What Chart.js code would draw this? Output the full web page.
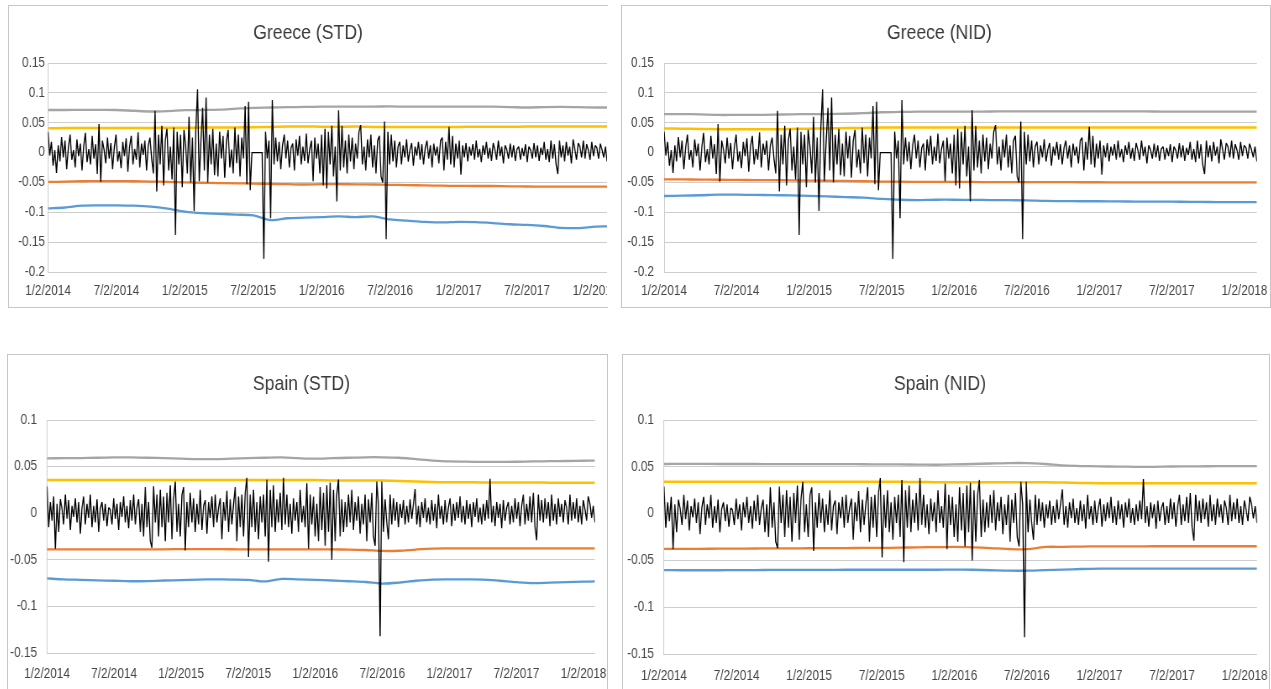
<!DOCTYPE html>
<html>
<head>
<meta charset="utf-8">
<script src="https://cdn.jsdelivr.net/npm/chart.js@4.4.1/dist/chart.umd.min.js"></script>
<style>
  html, body { margin: 0; padding: 0; background: #fff; overflow: hidden; width: 1271px; height: 689px; }
  .panel { position: absolute; box-sizing: border-box; border: 1px solid #c6c6c6; overflow: hidden; background: #fff; }
  .panel canvas { position: absolute; left: 0; top: 0; transform-origin: 0 0; }
</style>
</head>
<body>
<div class="panel" style="left:8px;top:5px;width:600px;height:303px;border-right:none"><canvas id="grStd"></canvas></div>
<div class="panel" style="left:621px;top:5px;width:650px;height:303px"><canvas id="grNid"></canvas></div>
<div class="panel" style="left:7px;top:354px;width:601px;height:345px"><canvas id="esStd"></canvas></div>
<div class="panel" style="left:622px;top:354px;width:648px;height:345px"><canvas id="esNid"></canvas></div>

<script>
// x axis: half-year steps from 1/2/2014, data runs a little past 1/2/2018
const xTickLabels = ['1/2/2014', '7/2/2014', '1/2/2015', '7/2/2015', '1/2/2016', '7/2/2016', '1/2/2017', '7/2/2017', '1/2/2018'];
const X_END = 8.17;

const greeceTicks = [-0.2, -0.15, -0.1, -0.05, 0, 0.05, 0.1, 0.15];
const spainTicks = [-0.15, -0.1, -0.05, 0, 0.05, 0.1];

// daily returns (thinned)
const greeceRet = [
  0.035, -0.005, 0.018, -0.022, 0.004, -0.034, 0.012, -0.015, 0.026, -0.008,
  0.02, -0.028, 0.009, 0.03, -0.012, 0.004, -0.025, 0.022, -0.006, 0.015,
  -0.03, 0.01, 0.033, -0.016, 0.006, -0.02, 0.028, -0.01, 0.014, -0.036,
  0.048, -0.049, 0.02, 0.005, -0.018, 0.025, -0.01, 0.016, -0.028, 0.008,
  0.03, -0.015, 0.002, -0.026, 0.018, -0.006, 0.024, -0.032, 0.01, 0.028,
  -0.02, 0.006, -0.012, 0.034, -0.025, 0.015, -0.004, 0.02, -0.03, 0.012,
  0.025, -0.01, -0.035, 0.07, -0.065, 0.03, -0.02, 0.045, -0.055, 0.02,
  0.04, -0.03, 0.01, -0.045, 0.042, -0.138, 0.035, -0.02, 0.03, -0.058,
  0.038, 0.01, -0.035, 0.06, -0.05, 0.025, -0.098, 0.04, 0.106, -0.048,
  0.02, 0.075, -0.03, 0.092, -0.05, 0.03, -0.02, 0.04, -0.038, 0.015,
  -0.04, 0.035, -0.01, 0.028, -0.042, 0.02, 0.038, -0.025, 0.005, -0.035,
  0.042, -0.018, 0.03, -0.04, 0.025, -0.01, 0.078, -0.053, 0.085, -0.063,
  0, 0, 0, 0, 0, 0, 0, -0.178, 0.035, -0.01,
  0.02, -0.11, 0.088, -0.02, 0.025, -0.015, 0.018, -0.028, 0.012, 0.03,
  -0.01, 0.02, -0.025, 0.008, 0.015, -0.03, 0.022, -0.005, 0.028, -0.02,
  0.01, -0.014, 0.032, -0.018, 0.006, 0.02, -0.048, 0.025, -0.01, 0.015,
  -0.035, 0.03, -0.055, 0.04, -0.06, 0.035, -0.02, 0.045, -0.04, 0.01,
  -0.082, 0.071, -0.03, 0.045, -0.025, 0.02, -0.035, 0.03, -0.015, 0.025,
  -0.028, 0.015, -0.01, 0.035, 0.046, -0.02, 0.01, -0.03, 0.022, -0.008,
  0.03, -0.025, 0.012, -0.035, 0.02, 0.028, -0.04, -0.05, 0.052, -0.145,
  0.035, -0.02, 0.03, -0.015, 0.02, -0.025, 0.01, 0.018, -0.02, 0.012,
  -0.008, 0.022, -0.015, 0.005, 0.016, -0.022, 0.01, -0.005, 0.018, -0.012,
  0.014, -0.02, 0.008, 0.02, -0.01, 0.012, -0.025, 0.015, -0.005, 0.01,
  -0.018, 0.02, 0.025, -0.03, 0.018, -0.012, 0.043, -0.02, 0.028, -0.025,
  0.015, -0.01, 0.02, -0.037, 0.012, -0.008, 0.016, -0.015, 0.01, -0.005,
  0.014, -0.012, 0.02, -0.008, 0.006, -0.016, 0.012, -0.004, 0.018, -0.01,
  0.008, -0.014, 0.016, 0.004, -0.012, 0.02, -0.006, 0.01, -0.018, 0.012,
  0.005, -0.01, 0.015, -0.008, 0.012, -0.014, 0.006, 0.01, -0.012, 0.008,
  -0.006, 0.014, -0.016, 0.01, 0.004, -0.01, 0.016, -0.008, 0.012, -0.014,
  0.008, -0.004, 0.018, -0.012, 0.006, -0.016, 0.02, -0.01, 0.014, -0.02,
  -0.036, 0.02, -0.008, 0.012, -0.015, 0.018, -0.005, 0.01, -0.018, 0.022,
  0.006, -0.012, 0.016, 0.01, -0.008, 0.02, -0.01, 0.014, 0.004, -0.012,
  0.018, -0.006, 0.012, 0.008, -0.01, 0.015, 0.005, -0.008, 0.01, -0.015
];

const spainRet = [
  0.029, -0.015, 0.012, -0.008, 0.018, -0.038, 0.01, -0.02, 0.015, 0.005,
  -0.012, 0.02, -0.006, 0.014, -0.018, 0.008, -0.004, 0.016, -0.01, 0.012,
  -0.022, 0.006, 0.018, -0.012, 0.01, -0.005, 0.02, -0.015, 0.008, -0.01,
  0.015, -0.02, 0.005, 0.012, -0.008, 0.01, -0.014, 0.006, 0.004, -0.012,
  0.016, -0.006, 0.01, -0.018, 0.012, -0.004, 0.018, -0.01, 0.008, -0.016,
  0.014, -0.008, 0.02, -0.012, 0.006, 0.015, -0.02, 0.01, -0.025, 0.028,
  -0.015, 0.012, -0.03, -0.037, 0.029, -0.01, 0.02, -0.025, 0.025, -0.015,
  0.018, -0.03, 0.022, -0.01, 0.03, -0.028, 0.015, 0.034, -0.02, 0.01,
  -0.025, 0.02, 0.028, -0.04, 0.012, -0.015, 0.022, -0.01, 0.016, -0.02,
  0.01, -0.012, 0.025, -0.018, 0.008, 0.014, -0.022, 0.012, -0.005, 0.018,
  -0.015, 0.02, -0.01, 0.006, 0.016, -0.028, 0.012, -0.008, 0.024, -0.02,
  0.015, -0.012, 0.01, 0.028, -0.03, 0.018, -0.015, 0.02, -0.025, 0.022,
  0.038, -0.047, 0.02, -0.015, 0.025, -0.02, 0.012, -0.028, 0.018, -0.01,
  0.02, -0.025, 0.036, -0.052, 0.025, -0.015, 0.03, -0.02, 0.015, -0.01,
  0.022, -0.018, 0.038, -0.012, 0.02, -0.015, 0.01, -0.022, 0.016, -0.008,
  0.012, -0.02, 0.025, -0.01, 0.008, -0.015, 0.032, -0.038, 0.02, -0.012,
  0.018, -0.025, 0.01, -0.03, 0.028, -0.018, 0.022, -0.035, 0.03, -0.02,
  0.033, -0.05, 0.025, -0.03, 0.02, 0.036, -0.025, 0.015, -0.02, 0.012,
  -0.015, 0.02, -0.01, 0.025, -0.018, 0.012, -0.008, 0.018, -0.022, 0.01,
  -0.012, 0.02, -0.03, 0.015, -0.01, 0.022, -0.025, -0.035, 0.034, 0.01,
  -0.132, 0.034, -0.02, 0.015, -0.01, -0.028, 0.02, -0.012, 0.016, -0.008,
  0.012, -0.015, 0.01, -0.005, 0.014, -0.012, 0.008, -0.01, 0.015, -0.006,
  0.01, 0.026, -0.012, 0.008, -0.015, 0.012, -0.005, 0.016, -0.01, 0.006,
  -0.012, 0.014, -0.008, 0.01, -0.016, 0.02, -0.006, 0.008, -0.012, 0.014,
  -0.01, 0.006, 0.016, -0.014, 0.01, -0.008, 0.012, -0.005, 0.018, -0.01,
  0.008, -0.012, 0.014, -0.006, 0.01, -0.015, 0.012, -0.004, 0.016, -0.01,
  0.006, -0.012, 0.01, -0.008, 0.014, -0.006, 0.037, -0.01, 0.008, -0.014,
  0.012, -0.005, 0.01, -0.016, 0.014, -0.008, 0.006, 0.012, -0.012, 0.008,
  -0.01, 0.016, -0.006, 0.012, -0.014, 0.008, 0.02, -0.012, 0.01, -0.008,
  0.018, -0.01, 0.022, -0.015, -0.029, 0.02, -0.008, 0.014, -0.01, 0.016,
  -0.006, 0.012, -0.014, 0.02, -0.008, 0.01, -0.012, 0.016, -0.004, 0.01,
  -0.01, 0.014, 0.006, -0.012, 0.02, -0.008, 0.012, -0.006, 0.016, -0.01,
  0.008, -0.012, 0.014, 0.004, -0.008, 0.018, 0.01, -0.005, 0.008, -0.01
];

// VaR bands sampled every quarter of a half-year
const varKnots = [0, 0.25, 0.5, 0.75, 1, 1.25, 1.5, 1.75, 2, 2.25, 2.5, 2.75, 3, 3.25, 3.5, 3.75, 4,
  4.25, 4.5, 4.75, 5, 5.25, 5.5, 5.75, 6, 6.25, 6.5, 6.75, 7, 7.25, 7.5, 7.75, 8, 8.17];

const grStdGray = [0.0713, 0.0713, 0.0715, 0.0715, 0.0713, 0.070, 0.0688, 0.0695, 0.071, 0.0713,
  0.0718, 0.0735, 0.075, 0.0755, 0.076, 0.0765, 0.0768, 0.0768, 0.0768, 0.077,
  0.0772, 0.0768, 0.0768, 0.0768, 0.0768, 0.0768, 0.0768, 0.0762, 0.0755, 0.0762,
  0.0765, 0.076, 0.0755, 0.0755];
const grStdYellow = [0.0406, 0.041, 0.0412, 0.041, 0.041, 0.041, 0.0412, 0.0415, 0.0415, 0.0418,
  0.042, 0.042, 0.0425, 0.043, 0.0435, 0.0438, 0.0432, 0.0432, 0.0435, 0.043,
  0.043, 0.043, 0.043, 0.043, 0.043, 0.0432, 0.0432, 0.0432, 0.0435, 0.0435,
  0.0435, 0.0435, 0.0435, 0.0435];
const grStdOrange = [-0.049, -0.0488, -0.048, -0.0478, -0.0478, -0.048, -0.0485, -0.049, -0.05, -0.0505,
  -0.051, -0.0515, -0.052, -0.0525, -0.053, -0.0535, -0.053, -0.053, -0.0532, -0.0535,
  -0.054, -0.0545, -0.055, -0.0555, -0.0558, -0.056, -0.056, -0.0565, -0.0568, -0.057,
  -0.057, -0.057, -0.057, -0.057];
const grStdBlue = [-0.0934, -0.092, -0.089, -0.0885, -0.0885, -0.089, -0.0905, -0.094, -0.099, -0.1015,
  -0.1025, -0.104, -0.105, -0.113, -0.110, -0.109, -0.108, -0.107, -0.108, -0.107,
  -0.112, -0.114, -0.116, -0.117, -0.116, -0.1165, -0.118, -0.12, -0.121, -0.123,
  -0.126, -0.1265, -0.124, -0.1235];

const grNidGray = [0.0645, 0.0645, 0.064, 0.063, 0.063, 0.063, 0.0635, 0.064, 0.0645, 0.0645,
  0.065, 0.066, 0.0675, 0.068, 0.0685, 0.0685, 0.0685, 0.0685, 0.0688, 0.069,
  0.069, 0.069, 0.069, 0.069, 0.069, 0.069, 0.069, 0.0688, 0.0685, 0.0685,
  0.0685, 0.0685, 0.0685, 0.0685];
const grNidYellow = [0.0405, 0.04, 0.0395, 0.0392, 0.039, 0.039, 0.039, 0.0395, 0.04, 0.0405,
  0.041, 0.0412, 0.0418, 0.042, 0.042, 0.042, 0.042, 0.042, 0.042, 0.042,
  0.042, 0.042, 0.042, 0.042, 0.042, 0.042, 0.042, 0.042, 0.042, 0.042,
  0.042, 0.042, 0.042, 0.042];
const grNidOrange = [-0.045, -0.045, -0.0452, -0.0455, -0.0458, -0.046, -0.0462, -0.0465, -0.047, -0.0472,
  -0.0475, -0.048, -0.0485, -0.0488, -0.049, -0.049, -0.049, -0.0492, -0.0495, -0.0495,
  -0.0495, -0.0495, -0.0496, -0.0497, -0.0497, -0.0498, -0.0498, -0.0498, -0.0499, -0.0499,
  -0.05, -0.05, -0.05, -0.05];
const grNidBlue = [-0.0727, -0.0722, -0.0715, -0.0705, -0.0705, -0.071, -0.0712, -0.0718, -0.0725, -0.0735,
  -0.0745, -0.0755, -0.0775, -0.079, -0.0795, -0.079, -0.079, -0.0792, -0.0795, -0.0798,
  -0.08, -0.081, -0.0812, -0.0815, -0.0815, -0.0818, -0.082, -0.082, -0.0822, -0.0825,
  -0.0828, -0.083, -0.083, -0.083];

const esStdGray = [0.0589, 0.059, 0.0592, 0.0595, 0.0598, 0.0598, 0.0595, 0.059, 0.0585, 0.058,
  0.058, 0.0585, 0.059, 0.0595, 0.0598, 0.059, 0.0585, 0.059, 0.0595, 0.06,
  0.06, 0.0595, 0.058, 0.0565, 0.0555, 0.0553, 0.055, 0.055, 0.0552, 0.0555,
  0.0558, 0.056, 0.0563, 0.0565];
const esStdYellow = [0.0356, 0.0356, 0.0356, 0.0356, 0.0356, 0.0356, 0.0356, 0.0356, 0.0356, 0.0356,
  0.0356, 0.0356, 0.0356, 0.0356, 0.0356, 0.0356, 0.0355, 0.0352, 0.0352, 0.0352,
  0.035, 0.0345, 0.034, 0.0335, 0.0332, 0.0332, 0.033, 0.033, 0.033, 0.033,
  0.0328, 0.0328, 0.0327, 0.0327];
const esStdOrange = [-0.0388, -0.0388, -0.0388, -0.0388, -0.0388, -0.0388, -0.0388, -0.0388, -0.0385, -0.0385,
  -0.0385, -0.0387, -0.0388, -0.0388, -0.0388, -0.0388, -0.0388, -0.0389, -0.039, -0.0395,
  -0.0405, -0.0403, -0.039, -0.038, -0.0378, -0.0377, -0.0377, -0.0377, -0.0377, -0.0377,
  -0.0377, -0.0377, -0.0377, -0.0377];
const esStdBlue = [-0.07, -0.071, -0.0715, -0.072, -0.0725, -0.073, -0.0728, -0.0722, -0.0718, -0.0712,
  -0.071, -0.0712, -0.0715, -0.0732, -0.0705, -0.071, -0.0715, -0.0722, -0.073, -0.0738,
  -0.0755, -0.0745, -0.0725, -0.0712, -0.071, -0.071, -0.0712, -0.0725, -0.074, -0.075,
  -0.0745, -0.074, -0.0735, -0.0732];

const esNidGray = [0.053, 0.0532, 0.0532, 0.053, 0.053, 0.053, 0.0528, 0.0528, 0.0528, 0.0528,
  0.0528, 0.0527, 0.0526, 0.0525, 0.0524, 0.0522, 0.0525, 0.053, 0.0535, 0.054,
  0.054, 0.053, 0.0515, 0.0508, 0.0505, 0.0502, 0.05, 0.05, 0.0503, 0.0505,
  0.0506, 0.0507, 0.0507, 0.0507];
const esNidYellow = [0.0339, 0.0339, 0.0339, 0.0339, 0.0339, 0.0339, 0.0339, 0.0339, 0.0339, 0.0339,
  0.0339, 0.0339, 0.0339, 0.0339, 0.0338, 0.0336, 0.0335, 0.0334, 0.0334, 0.0334,
  0.0334, 0.0334, 0.0332, 0.0328, 0.0325, 0.0325, 0.0324, 0.0324, 0.0324, 0.0324,
  0.0324, 0.0324, 0.0324, 0.0324];
const esNidOrange = [-0.0377, -0.0377, -0.0376, -0.0375, -0.0374, -0.0373, -0.0372, -0.0371, -0.037, -0.0369,
  -0.0368, -0.0367, -0.0366, -0.0364, -0.036, -0.0358, -0.0356, -0.036, -0.0368, -0.0378,
  -0.038, -0.0356, -0.0355, -0.0352, -0.035, -0.035, -0.035, -0.0349, -0.0349, -0.0349,
  -0.0349, -0.0349, -0.0349, -0.0349];
const esNidBlue = [-0.0603, -0.0605, -0.0605, -0.0605, -0.0603, -0.0603, -0.0602, -0.0602, -0.0602, -0.0601,
  -0.06, -0.06, -0.06, -0.06, -0.06, -0.06, -0.0598, -0.06, -0.0605, -0.061,
  -0.061, -0.0603, -0.0598, -0.0592, -0.0588, -0.0587, -0.0587, -0.0587, -0.0587, -0.0587,
  -0.0587, -0.0587, -0.0587, -0.0587];

(function () {
    const FONT = "'Liberation Sans', Arial, sans-serif";
    const TXT = '#454545';
    const GRID = '#cdcdcd';
    const COLORS = { gray: '#a5a5a5', yellow: '#ffc000', orange: '#ed7d31', blue: '#5b9bd5' };
    // the source picture is squeezed sideways; draw wider and squeeze back
    const SX = 0.84;

    function retPoints(rets) {
        const n = rets.length - 1;
        return rets.map((v, i) => ({ x: i * X_END / n, y: v }));
    }

    function bandPoints(vals) {
        return varKnots.map((u, k) => ({ x: u, y: vals[k] }));
    }

    function band(vals, color, width) {
        return {
            data: bandPoints(vals),
            borderColor: color,
            borderWidth: width,
            pointRadius: 0,
            tension: 0.3
        };
    }

    function mkPanel(id, title, rets, lines, yTicks, g) {
        const el = document.getElementById(id);
        if (!el) return;
        el.width = Math.round(g.w / SX);
        el.height = g.h;
        el.style.transform = 'scaleX(' + SX + ')';
        new Chart(el, {
            type: 'line',
            data: {
                datasets: [
                    {
                        data: retPoints(rets),
                        borderColor: '#000',
                        borderWidth: 1.35,
                        borderJoinStyle: 'bevel',
                        pointRadius: 0,
                        tension: 0
                    },
                    band(lines[0], COLORS.gray, 2.3),
                    band(lines[1], COLORS.yellow, 2.5),
                    band(lines[2], COLORS.orange, 2.3),
                    band(lines[3], COLORS.blue, 2.3)
                ]
            },
            options: {
                responsive: false,
                animation: false,
                devicePixelRatio: 1,
                layout: { autoPadding: false, padding: { left: 0, right: g.padR / SX, top: 0, bottom: 0 } },
                plugins: {
                    legend: { display: false },
                    tooltip: { enabled: false },
                    title: {
                        display: true,
                        text: title,
                        color: '#3a3a3a',
                        font: { family: FONT, size: 21, weight: 'normal' },
                        padding: { top: g.tTop, bottom: g.tBot }
                    }
                },
                scales: {
                    x: {
                        type: 'linear',
                        min: 0,
                        max: X_END,
                        grid: { display: false },
                        border: { display: false },
                        afterBuildTicks: s => { s.ticks = xTickLabels.map((_, i) => ({ value: i })); },
                        afterFit: s => { s.height = g.xH; s.paddingLeft = 0; s.paddingRight = 0; },
                        ticks: {
                            autoSkip: false,
                            maxRotation: 0,
                            padding: g.xPad,
                            color: TXT,
                            font: { family: FONT, size: 14 },
                            callback: v => xTickLabels[Math.round(v)]
                        }
                    },
                    y: {
                        min: yTicks[0],
                        max: yTicks[yTicks.length - 1],
                        afterBuildTicks: s => { s.ticks = yTicks.map(v => ({ value: v })); },
                        afterFit: s => { s.width = g.yW / SX; s.paddingTop = 0; s.paddingBottom = 0; },
                        grid: { color: GRID, drawTicks: false },
                        border: { display: true, color: GRID },
                        ticks: {
                            padding: g.yPad / SX,
                            color: TXT,
                            font: { family: FONT, size: 14 },
                            callback: v => String(+v.toFixed(2))
                        }
                    }
                }
            }
        });
    }

    mkPanel('grStd', 'Greece (STD)', greeceRet, [grStdGray, grStdYellow, grStdOrange, grStdBlue], greeceTicks,
        { w: 598, h: 300, yW: 39, padR: 0, tTop: 15, tBot: 16.8, xH: 34, xPad: 3, yPad: 3 });
    mkPanel('grNid', 'Greece (NID)', greeceRet, [grNidGray, grNidYellow, grNidOrange, grNidBlue], greeceTicks,
        { w: 647, h: 300, yW: 42, padR: 12, tTop: 15, tBot: 16.8, xH: 34, xPad: 3, yPad: 10 });
    mkPanel('esStd', 'Spain (STD)', spainRet, [esStdGray, esStdYellow, esStdOrange, esStdBlue], spainTicks,
        { w: 599, h: 334, yW: 39, padR: 12, tTop: 17, tBot: 22.8, xH: 36, xPad: 5, yPad: 10 });
    mkPanel('esNid', 'Spain (NID)', spainRet, [esNidGray, esNidYellow, esNidOrange, esNidBlue], spainTicks,
        { w: 646, h: 334, yW: 41, padR: 12, tTop: 17, tBot: 22.8, xH: 35, xPad: 6, yPad: 10 });
})();
</script>
</body>
</html>
